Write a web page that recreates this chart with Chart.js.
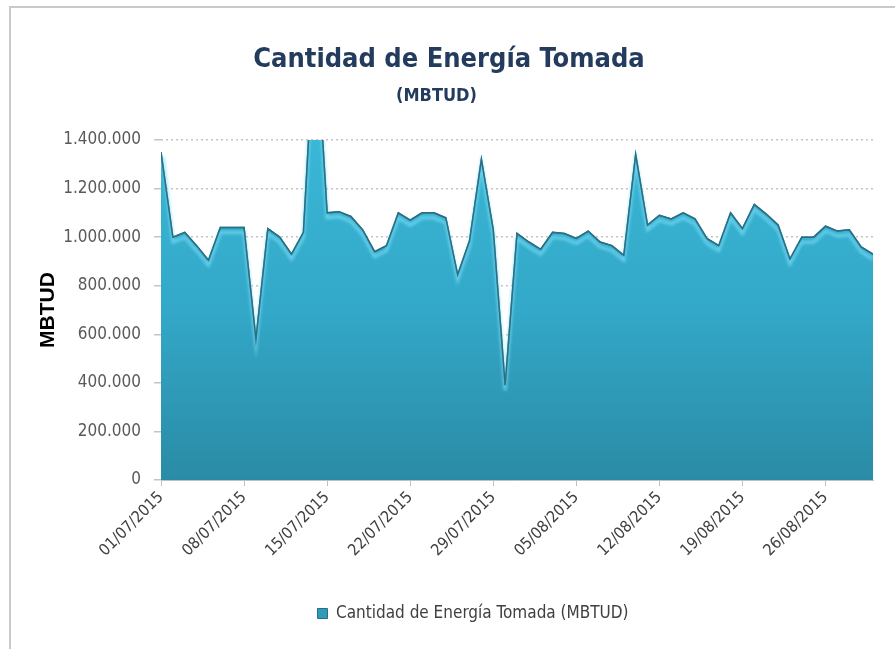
<!DOCTYPE html>
<html>
<head>
<meta charset="utf-8">
<script src="https://cdn.jsdelivr.net/npm/chart.js@4"></script>
<style>
  html, body { margin: 0; padding: 0; background: #fff; }
  #marco { position: absolute; left: 9px; top: 6px; width: 900px; height: 660px; border: 2px solid #c9c9c9; box-sizing: border-box; }
  #wrap { position: absolute; left: 0; top: 0; width: 895px; height: 649px; }
</style>
</head>
<body>
<div id="marco"></div>
<div id="wrap"><canvas id="graficoEnergia" width="895" height="649"></canvas></div>
<script>
// fechas diarias (julio - agosto 2015)
const fechas = [
  '01/07/2015','02/07/2015','03/07/2015','04/07/2015','05/07/2015','06/07/2015','07/07/2015',
  '08/07/2015','09/07/2015','10/07/2015','11/07/2015','12/07/2015','13/07/2015','14/07/2015',
  '15/07/2015','16/07/2015','17/07/2015','18/07/2015','19/07/2015','20/07/2015','21/07/2015',
  '22/07/2015','23/07/2015','24/07/2015','25/07/2015','26/07/2015','27/07/2015','28/07/2015',
  '29/07/2015','30/07/2015','31/07/2015','01/08/2015','02/08/2015','03/08/2015','04/08/2015',
  '05/08/2015','06/08/2015','07/08/2015','08/08/2015','09/08/2015','10/08/2015','11/08/2015',
  '12/08/2015','13/08/2015','14/08/2015','15/08/2015','16/08/2015','17/08/2015','18/08/2015',
  '19/08/2015','20/08/2015','21/08/2015','22/08/2015','23/08/2015','24/08/2015','25/08/2015',
  '26/08/2015','27/08/2015','28/08/2015','29/08/2015','30/08/2015'
];

// energía tomada por día (MBTUD)
const energiaTomada = [
  1350000, 1000000, 1020000, 965000, 905000, 1040000, 1040000,
  1040000, 580000, 1035000, 1000000, 930000, 1020000, 1900000,
  1100000, 1105000, 1085000, 1030000, 940000, 965000, 1100000,
  1070000, 1100000, 1100000, 1080000, 845000, 985000, 1320000,
  1030000, 390000, 1015000, 980000, 950000, 1020000, 1015000,
  995000, 1025000, 980000, 965000, 925000, 1340000, 1050000,
  1090000, 1075000, 1100000, 1075000, 995000, 965000, 1100000,
  1035000, 1135000, 1095000, 1050000, 910000, 1000000, 1000000,
  1045000, 1025000, 1030000, 960000, 930000
];

const ejeY = { min: 0, max: 1400000, paso: 200000 };

const fuente = "'Liberation Sans Narrow', 'DejaVu Sans Condensed', 'Liberation Sans', sans-serif";
Chart.defaults.font.family = fuente;

function formatoMiles(v) {
  return String(v).replace(/\B(?=(\d{3})+(?!\d))/g, '.');
}

function gradienteArea(context) {
  const chart = context.chart;
  const area = chart.chartArea;
  if (!area) return '#33a6c6';
  const g = chart.ctx.createLinearGradient(0, area.top, 0, area.bottom);
  g.addColorStop(0, '#3ab6d6');
  g.addColorStop(0.5, '#33a8c8');
  g.addColorStop(1, '#2a8ba5');
  return g;
}

// brillo bajo el borde (efecto bisel) y recentrado de títulos / leyenda
const biselPlugin = {
  id: 'bisel',
  afterLayout(chart) {
    // en el original el título y la leyenda quedan algo a la derecha
    const mover = (box, centro) => {
      if (!box) return;
      const ancho = box.right - box.left;
      box.left = centro - ancho / 2;
      box.right = centro + ancho / 2;
    };
    mover(chart.titleBlock, 449);
    mover(chart.$subtitle, 443);
    mover(chart.legend, 473);
  },
  afterDatasetsDraw(chart) {
    const meta = chart.getDatasetMeta(0);
    const pts = meta.data;
    const area = chart.chartArea;
    const ctx = chart.ctx;
    ctx.save();
    ctx.beginPath();
    ctx.rect(area.left, area.top, area.right - area.left, area.bottom - area.top);
    ctx.clip();
    ctx.filter = 'blur(1.5px)';
    ctx.strokeStyle = 'rgba(120, 220, 245, 0.75)';
    ctx.lineWidth = 3;
    ctx.beginPath();
    pts.forEach((p, i) => {
      if (i === 0) ctx.moveTo(p.x + 2, p.y + 5);
      else ctx.lineTo(p.x, p.y + 5);
    });
    ctx.stroke();
    ctx.filter = 'none';
    ctx.strokeStyle = '#2b6f84';
    ctx.lineWidth = 1.5;
    ctx.beginPath();
    pts.forEach((p, i) => { if (i === 0) ctx.moveTo(p.x, p.y); else ctx.lineTo(p.x, p.y); });
    ctx.stroke();
    ctx.restore();
  }
};

new Chart(document.getElementById('graficoEnergia'), {
  type: 'line',
  data: {
    labels: fechas,
    datasets: [{
      label: 'Cantidad de Energía Tomada (MBTUD)',
      data: energiaTomada,
      fill: 'origin',
      backgroundColor: gradienteArea,
      borderColor: '#2b6f84',
      borderWidth: 1.5,
      pointRadius: 0,
      tension: 0,
      clip: 0
    }]
  },
  options: {
    responsive: false,
    animation: false,
    layout: { padding: { top: 0, left: 0, right: 22, bottom: 17 } },
    plugins: {
      title: {
        display: true,
        text: 'Cantidad de Energía Tomada',
        color: '#233b5c',
        font: { size: 27, weight: 'bold', family: fuente },
        padding: { top: 44, bottom: 0 }
      },
      subtitle: {
        display: true,
        text: '(MBTUD)',
        color: '#233b5c',
        font: { size: 18, weight: 'bold', family: fuente },
        padding: { top: 9, bottom: 33 }
      },
      legend: {
        position: 'bottom',
        labels: {
          color: '#404040',
          font: { size: 17 },
          boxWidth: 10,
          boxHeight: 10,
          padding: 10,
          generateLabels(chart) {
            const items = Chart.defaults.plugins.legend.labels.generateLabels(chart);
            items.forEach(it => { it.fillStyle = '#2f9cb9'; it.strokeStyle = '#2b6f84'; it.lineWidth = 1; });
            return items;
          }
        }
      },
      tooltip: { enabled: false }
    },
    scales: {
      x: {
        grid: {
          drawOnChartArea: false,
          tickLength: 6,
          color: ctx => (ctx.index % 7 === 0 ? '#bfbfbf' : 'rgba(0,0,0,0)')
        },
        border: { color: '#bfbfbf' },
        ticks: {
          autoSkip: false,
          maxRotation: 45,
          minRotation: 45,
          color: '#404040',
          font: { size: 16 },
          padding: 2,
          callback: function (val, i) { return i % 7 === 0 ? this.getLabelForValue(val) : ''; }
        },
        afterFit(scale) { scale.height = 115; }
      },
      y: {
        min: ejeY.min,
        max: ejeY.max,
        grid: {
          color: '#c4c4c4',
          tickLength: 7,
          lineWidth: 1.5
        },
        border: { display: false, dash: [2, 3] },
        ticks: {
          stepSize: ejeY.paso,
          color: '#595959',
          font: { size: 17 },
          padding: 13,
          callback: v => formatoMiles(v)
        },
        title: {
          display: true,
          text: 'MBTUD',
          color: '#000',
          font: { size: 21, weight: 'bold', family: "'Liberation Sans', sans-serif" },
          padding: { top: 36, bottom: 0 }
        },
        afterFit(scale) { scale.width = 161; }
      }
    }
  },
  plugins: [biselPlugin]
});
</script>
</body>
</html>
